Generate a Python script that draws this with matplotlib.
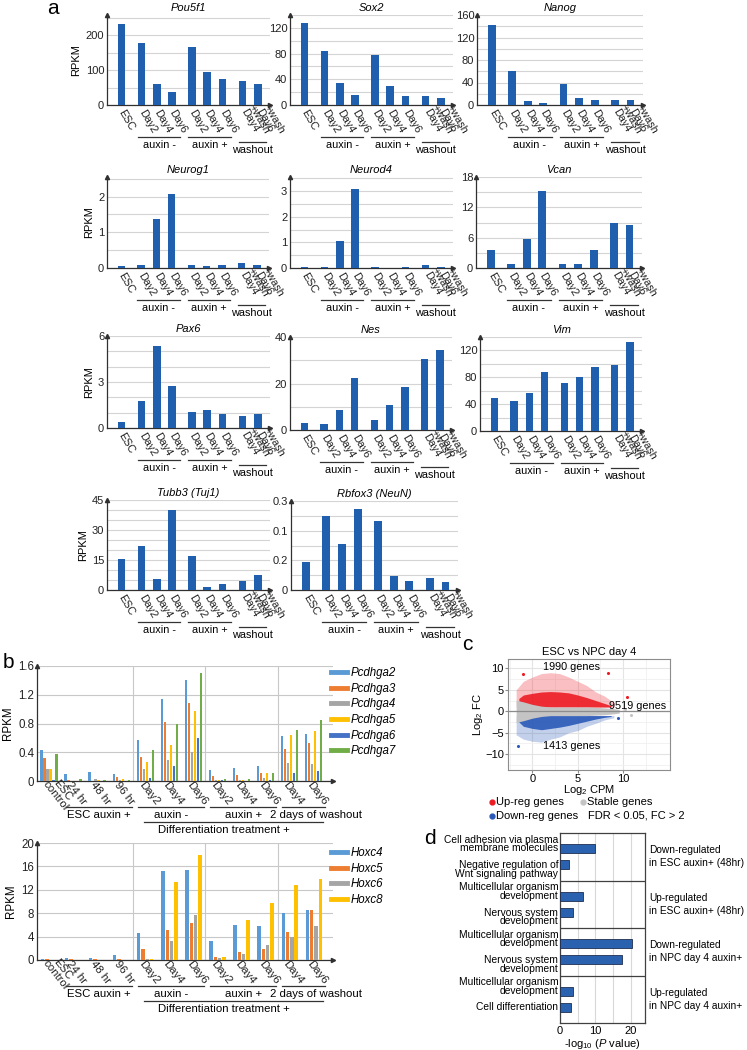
import matplotlib
matplotlib.use("Agg")
import matplotlib.pyplot as plt
import matplotlib.transforms as mtransforms
from matplotlib.lines import Line2D
import numpy as np

plt.rcParams["font.family"] = ["Liberation Sans", "DejaVu Sans"]
plt.rcParams["mathtext.fontset"] = "custom"
plt.rcParams["mathtext.rm"] = "Liberation Sans"
plt.rcParams["mathtext.it"] = "Liberation Sans:italic"
plt.rcParams["mathtext.default"] = "regular"

W, H = 747, 1050
BAR = "#1f5fad"
GRID = "#d4d4d4"
AXC = "#303030"

# ---------------- panel a data ----------------
a_labels = ["ESC", "Day2", "Day4", "Day6", "Day2", "Day4", "Day6", "+wash\nDay4", "+wash\nDay6"]
a_group_sizes = [1, 3, 3, 2]
a_groups = [("auxin -", 1, 3), ("auxin +", 4, 6), ("washout", 7, 8)]

pou5f1 = [231, 178, 61, 36, 167, 96, 75, 69, 60]
sox2 = [127, 84, 34.5, 16, 77.5, 29, 14, 14, 11]
nanog = [143, 60, 6.5, 3, 37, 12, 8.3, 8.3, 9]
neurog1 = [0.06, 0.085, 1.36, 2.07, 0.085, 0.07, 0.085, 0.15, 0.085]
neurod4 = [0.04, 0.05, 1.06, 3.08, 0.03, 0.01, 0.02, 0.12, 0.05]
vcan = [3.55, 0.85, 5.7, 15.2, 0.7, 0.7, 3.55, 8.9, 8.5]
pax6 = [0.39, 1.75, 5.35, 2.73, 1.05, 1.18, 0.9, 0.79, 0.9]
nes = [3.2, 2.6, 8.8, 22.2, 4.5, 10.9, 18.7, 30.4, 34.5]
vim = [48.7, 44.7, 56, 87.4, 71.4, 80.4, 95, 99, 133]
tubb3 = [15.5, 22.2, 5.7, 39.8, 16.8, 1.5, 3, 4.5, 7.6]
rbfox3 = [0.096, 0.25, 0.156, 0.273, 0.231, 0.048, 0.031, 0.039, 0.026]
rbfox3_ticklabels = ["0", "0.2", "0.1", "0.3"]

# ---------------- panel b data ----------------
b_cats = ["ESC\ncontrol", "24 hr", "48 hr", "96 hr", "Day2", "Day4", "Day6",
          "Day2", "Day4", "Day6", "Day4", "Day6"]
b_groups = [("ESC auxin +", 1, 3), ("auxin -", 4, 6), ("auxin +", 7, 9), ("2 days of washout", 10, 11)]
b_super = ("Differentiation treatment +", 4, 11)

pcdh_names = ["Pcdhga2", "Pcdhga3", "Pcdhga4", "Pcdhga5", "Pcdhga6", "Pcdhga7"]
pcdhga2 = [0.43, 0.10, 0.12, 0.10, 0.57, 1.14, 1.40, 0.16, 0.18, 0.21, 0.62, 0.66]
pcdhga3 = [0.32, 0.02, 0.005, 0.05, 0.33, 0.82, 1.09, 0.07, 0.08, 0.11, 0.45, 0.53]
pcdhga4 = [0.17, 0.005, 0.03, 0.02, 0.17, 0.29, 0.40, 0.01, 0.02, 0.04, 0.25, 0.23]
pcdhga5 = [0.17, 0.005, 0.02, 0.03, 0.26, 0.50, 0.98, 0.02, 0.01, 0.11, 0.64, 0.69]
pcdhga6 = [0.02, 0.0, 0.0, 0.0, 0.04, 0.21, 0.60, 0.01, 0.0, 0.02, 0.11, 0.14]
pcdhga7 = [0.37, 0.03, 0.02, 0.02, 0.43, 0.80, 1.50, 0.03, 0.03, 0.11, 0.71, 0.85]
pcdh_colors = ["#5b9bd5", "#ed7d31", "#a5a5a5", "#ffc000", "#4472c4", "#70ad47"]

hox_names = ["Hoxc4", "Hoxc5", "Hoxc6", "Hoxc8"]
hoxc4 = [0.2, 0.35, 0.35, 0.8, 4.7, 15.2, 15.3, 3.2, 6.0, 5.8, 8.0, 8.6]
hoxc5 = [0.1, 0.1, 0.1, 0.25, 1.95, 5.2, 6.26, 0.55, 1.3, 1.95, 4.8, 8.55]
hoxc6 = [0.05, 0.05, 0.05, 0.05, 0.18, 3.2, 7.7, 0.4, 0.95, 2.5, 4.0, 5.8]
hoxc8 = [0.05, 0.05, 0.05, 0.05, 0.18, 13.35, 17.9, 0.5, 6.9, 9.8, 12.9, 13.8]
hox_colors = ["#5b9bd5", "#ed7d31", "#a5a5a5", "#ffc000"]

# ---------------- panel c data (cloud envelopes) ----------------
stable_x = [-1.8, -1.0, 0, 1, 2, 3, 4, 5, 6, 7, 8, 9, 9.6]
stable_hi = [2.6, 2.2, 1.6, 1.2, 1.0, 1.0, 1.0, 1.0, 1.0, 0.9, 0.8, 0.6, 0.4]
stable_lo = [-2.6, -2.2, -1.6, -1.2, -1.0, -1.0, -1.0, -1.0, -1.0, -0.9, -0.8, -0.6, -0.4]
core_x = [-1.5, -1, 0, 1, 2, 3, 4, 5, 6, 7, 8, 8.7]
up_core_hi = [3.0, 3.8, 4.2, 4.5, 4.6, 4.5, 4.3, 3.8, 3.2, 2.5, 1.8, 1.3]
down_core_lo = [-2.5, -3.5, -4.0, -4.3, -4.0, -3.7, -3.3, -2.8, -2.3, -1.8, -1.4, -1.2]
outer_x = [-1.8, -1, 0, 1, 2, 3, 4, 5, 6, 7, 8, 9]
up_outer_hi = [5, 7, 8, 8.8, 9, 8.8, 8, 7, 6, 4.5, 3.5, 2]
down_outer_lo = [-5.5, -6.5, -7, -7.2, -6.5, -6, -5, -4.5, -3.5, -2.8, -2, -1.5]
fc_cut = 1.0
up_pts_x, up_pts_y = [-1.0, 8.4, 10.5], [8.8, 9.0, 3.4]
down_pts_x, down_pts_y = [-1.6, 9.5], [-8.0, -1.5]
stable_pts_x, stable_pts_y = [10.9, 10.2], [-0.8, 0.6]
c_counts = ["1990 genes", "9519 genes", "1413 genes"]

# ---------------- panel d data ----------------
d_terms = ["Cell adhesion via plasma\nmembrane molecules", "Negative regulation of\nWnt signaling pathway",
           "Multicellular organism\ndevelopment", "Nervous system\ndevelopment",
           "Multicellular organism\ndevelopment", "Nervous system\ndevelopment",
           "Multicellular organism\ndevelopment", "Cell differentiation"]
d_vals = [10, 2.5, 6.4, 3.6, 20.3, 17.4, 3.6, 3.2]
d_groups = ["Down-regulated\nin ESC auxin+ (48hr)", "Up-regulated\nin ESC auxin+ (48hr)",
            "Down-regulated\nin NPC day 4 auxin+", "Up-regulated\nin NPC day 4 auxin+"]

fig = plt.figure(figsize=(W / 100, H / 100), dpi=100)


def add_ax(x0, y0, x1, y1):
    return fig.add_axes([x0 / W, 1 - y1 / H, (x1 - x0) / W, (y1 - y0) / H])


def arrow_axes(ax):
    for s in ["top", "right"]:
        ax.spines[s].set_visible(False)
    for s in ["left", "bottom"]:
        ax.spines[s].set_color(AXC)
        ax.spines[s].set_linewidth(0.9)
    ax.plot(1, 0, ">", transform=ax.transAxes, clip_on=False, color=AXC, ms=3, zorder=6)
    ax.plot(0, 1, "^", transform=ax.transAxes, clip_on=False, color=AXC, ms=3, zorder=6)
    ax.tick_params(which="both", length=0, pad=2, colors="#222222")


def shift_xlabels(ax, dx_px):
    off = mtransforms.ScaledTranslation(dx_px / 100, 0, fig.dpi_scale_trans)
    for lab in ax.get_xticklabels():
        lab.set_transform(lab.get_transform() + off)


def under(ax, x0, x1, text, line_px, text_px, ax_h, fs, text_x=None):
    tr = mtransforms.blended_transform_factory(ax.transData, ax.transAxes)
    ax.plot([x0, x1], [-line_px / ax_h] * 2, transform=tr, color="#333333", lw=0.9, clip_on=False)
    tx = (x0 + x1) / 2 if text_x is None else text_x
    ax.text(tx, -text_px / ax_h, text, transform=tr, ha="center", va="center", fontsize=fs)


# ---------------- panel a ----------------
a_x = []
pos = 0.0
for n in a_group_sizes:
    for _ in range(n):
        a_x.append(pos)
        pos += 1
    pos += 0.3

a_panels = [
    ("Pou5f1", pou5f1, (107, 15, 270, 105), 258, [0, 100, 200], None, 50, True),
    ("Sox2", sox2, (290, 15, 453, 105), 140, [0, 40, 80, 120], None, 20, False),
    ("Nanog", nanog, (477, 15, 643, 105), 160, [0, 40, 80, 120, 160], None, 20, False),
    ("Neurog1", neurog1, (107, 177, 269, 268), 2.55, [0, 1, 2], None, 0.5, True),
    ("Neurod4", neurod4, (290, 177, 453, 268), 3.55, [0, 1, 2, 3], None, 0.5, False),
    ("Vcan", vcan, (476, 177, 642, 268), 18, [0, 6, 12, 18], None, 3, False),
    ("Pax6", pax6, (107, 336, 270, 428), 6, [0, 3, 6], None, 1, True),
    ("Nes", nes, (290, 337, 452, 430), 40, [0, 20, 40], None, 10, False),
    ("Vim", vim, (480, 337, 642, 431), 140, [0, 40, 80, 120], None, 20, False),
    ("Tubb3 (Tuj1)", tubb3, (107, 500, 270, 590), 45, [0, 15, 30, 45], None, 5, True),
    ("Rbfox3 (NeuN)", rbfox3, (291, 501, 458, 590), 0.3, [0, 0.1, 0.2, 0.3], rbfox3_ticklabels, 0.05, False),
]

for title, vals, box, ymax, yt, ytl, gstep, ylab in a_panels:
    ax = add_ax(*box)
    ax_h = box[3] - box[1]
    ax.bar(a_x, vals, width=0.5, color=BAR, zorder=3)
    ax.set_xlim(-0.95, 9.7)
    ax.set_ylim(0, ymax)
    ax.set_yticks(yt)
    if ytl is not None:
        ax.set_yticklabels(ytl)
    ax.set_yticks(np.arange(gstep, ymax + 1e-9, gstep), minor=True)
    ax.yaxis.grid(True, which="both", color=GRID, lw=0.8, zorder=0)
    ax.set_axisbelow(True)
    arrow_axes(ax)
    ax.tick_params(axis="y", labelsize=8)
    ax.set_xticks(a_x)
    ax.set_xticklabels(a_labels, rotation=-60, ha="left", va="baseline",
                       rotation_mode="anchor", fontsize=7.8, linespacing=0.85)
    ax.tick_params(axis="x", pad=5)
    shift_xlabels(ax, -3)
    ax.set_title(title, fontstyle="italic", fontsize=8, pad=3)
    if ylab:
        ax.set_ylabel("RPKM", fontsize=8, labelpad=3)
    for g, (txt, i0, i1) in enumerate(a_groups):
        extra = 5 if txt == "washout" else 0
        under(ax, a_x[i0] - 0.25, a_x[i1] + 0.55, txt, 32 + extra, 40 + extra, ax_h, 7.8)

fig.text(53 / W, 1 - 9 / H, "a", fontsize=15, ha="center", va="center")
fig.text(8 / W, 1 - 662 / H, "b", fontsize=15, ha="center", va="center")
fig.text(467 / W, 1 - 645 / H, "c", fontsize=15, ha="center", va="center")
fig.text(430 / W, 1 - 838 / H, "d", fontsize=15, ha="center", va="center")

# ---------------- panel b ----------------
b_x = np.arange(len(b_cats))


def group_bar_panel(box, series, names, colors, slot, width, ymax, yt, ytick_fmt, legend_top):
    ax = add_ax(*box)
    ax_h = box[3] - box[1]
    k = len(series)
    for j, (vals, c) in enumerate(zip(series, colors)):
        ax.bar(b_x + (j - (k - 1) / 2) * slot, vals, width=width, color=c, zorder=3)
    ax.set_xlim(-0.5, 11.8)
    ax.set_ylim(0, ymax)
    ax.set_yticks(yt)
    ax.set_yticklabels([ytick_fmt(v) for v in yt])
    ax.yaxis.grid(True, color="#c8c8c8", lw=0.8, zorder=0)
    for _, i0, i1 in b_groups[:-1]:
        ax.axvline(i1 + 0.5, color="#c8c8c8", lw=0.8, zorder=0)
    ax.set_axisbelow(True)
    arrow_axes(ax)
    ax.tick_params(axis="y", labelsize=8.3)
    ax.set_xticks(b_x)
    ax.set_xticklabels(b_cats, rotation=-52, ha="left", va="baseline",
                       rotation_mode="anchor", fontsize=8.2, linespacing=0.85,
                       multialignment="center")
    ax.tick_params(axis="x", pad=3)
    shift_xlabels(ax, -7)
    ax.set_ylabel("RPKM", fontsize=8.3, labelpad=3)
    for txt, i0, i1 in b_groups:
        tx = i1 + 0.1 if i0 == i1 - 1 else None
        under(ax, i0 - 0.3, i1 + 0.45, txt, 26, 34, ax_h, 8.2, tx)
    under(ax, b_super[1] - 0.05, b_super[2] + 0.4, b_super[0], 41, 49, ax_h, 8.2, 7.25)
    handles = [Line2D([], [], color=c, lw=3.5) for c in colors]
    fig.legend(handles, names, loc="upper left", bbox_to_anchor=(331 / W, 1 - legend_top / H),
               frameon=False, handlelength=1.4, handletextpad=0.3,
               labelspacing=0.32, borderaxespad=0, borderpad=0,
               prop={"style": "italic", "size": 8.3})
    return ax


group_bar_panel((37, 666, 333, 781), [pcdhga2, pcdhga3, pcdhga4, pcdhga5, pcdhga6, pcdhga7],
                pcdh_names, pcdh_colors, 0.125, 0.1, 1.6, [0, 0.4, 0.8, 1.2, 1.6],
                lambda v: "0" if v == 0 else f"{v:.1f}", 667)
group_bar_panel((37, 843, 333, 960), [hoxc4, hoxc5, hoxc6, hoxc8],
                hox_names, hox_colors, 0.18, 0.14, 20, [0, 4, 8, 12, 16, 20],
                lambda v: f"{v:d}", 847)

# ---------------- panel c ----------------
axc = add_ax(508, 659, 670, 770)
RED, BLUE, GREY = "#ec1c24", "#2a59b8", "#c4c4c4"
axc.fill_between(outer_x, fc_cut, up_outer_hi, color=RED, alpha=0.28, lw=0, zorder=2)
axc.fill_between(outer_x, down_outer_lo, -fc_cut, color=BLUE, alpha=0.28, lw=0, zorder=2)
axc.fill_between(core_x, fc_cut, up_core_hi, color=RED, alpha=0.9, lw=0, zorder=3)
axc.fill_between(core_x, down_core_lo, -fc_cut, color=BLUE, alpha=0.9, lw=0, zorder=3)
axc.fill_between(stable_x, stable_lo, stable_hi, color=GREY, lw=0, zorder=4)
axc.scatter(up_pts_x, up_pts_y, s=1.5, color=RED, zorder=4)
axc.scatter(down_pts_x, down_pts_y, s=1.5, color=BLUE, zorder=4)
axc.scatter(stable_pts_x, stable_pts_y, s=1.5, color=GREY, zorder=4)
axc.axhline(0, color="#8c8c8c", lw=0.9, zorder=5)
axc.set_xlim(-2.7, 15.2)
axc.set_ylim(-13.7, 12.2)
axc.set_xticks([0, 5, 10])
axc.set_yticks([-10, -5, 0, 5, 10])
axc.set_xticks([-2.5, 2.5, 7.5, 12.5], minor=True)
axc.set_yticks([-12.5, -7.5, -2.5, 2.5, 7.5], minor=True)
axc.grid(True, which="major", color="#e4e4e4", lw=0.8, zorder=0)
axc.grid(True, which="minor", color="#f0f0f0", lw=0.6, zorder=0)
axc.set_axisbelow(True)
for s in axc.spines.values():
    s.set_color("#8c8c8c")
    s.set_linewidth(0.8)
axc.tick_params(which="major", length=2, color="#8c8c8c", labelsize=8, pad=1)
axc.tick_params(which="minor", length=0)
axc.set_xlabel("Log$_2$ CPM", fontsize=8, labelpad=-1)
axc.set_ylabel("Log$_2$ FC", fontsize=8, labelpad=0)
axc.set_title("ESC vs NPC day 4", fontsize=8, pad=3)
axc.text(4.3, 10.3, c_counts[0], fontsize=7.8, ha="center", va="center", zorder=7)
axc.text(11.6, 1.3, c_counts[1], fontsize=7.8, ha="center", va="center", zorder=7)
axc.text(4.3, -8.0, c_counts[2], fontsize=7.8, ha="center", va="center", zorder=7)

for xx, yy, col, lab in [(492, 802, RED, "Up-reg genes"), (492, 816, BLUE, "Down-reg genes"),
                         (583, 802, GREY, "Stable genes")]:
    fig.add_artist(Line2D([xx / W], [1 - yy / H], marker="o", ms=3.5, color=col, lw=0,
                          transform=fig.transFigure))
    fig.text((xx + 4) / W, 1 - yy / H, lab, fontsize=8, va="center", ha="left")
fig.text(588 / W, 1 - 816 / H, "FDR < 0.05, FC > 2", fontsize=8, va="center", ha="left")

# ---------------- panel d ----------------
axd = add_ax(560, 833, 645, 1023)
d_y = []
for g in range(len(d_groups)):
    d_y += [3 * g + 1, 3 * g + 2]
axd.barh(d_y, d_vals, height=0.55, color="#2b62b0", edgecolor="#1f2f4f", lw=0.6, zorder=3)
axd.set_xlim(0, 24)
axd.set_ylim(12, 0)
axd.set_xticks([0, 10, 20])
axd.set_xticks([5, 15], minor=True)
axd.xaxis.grid(True, which="both", color="#d8d8d8", lw=0.8, zorder=0)
axd.set_axisbelow(True)
axd.set_yticks([])
for s in axd.spines.values():
    s.set_color("#404040")
    s.set_linewidth(0.9)
for sep in [3, 6, 9]:
    axd.axhline(sep, color="#404040", lw=0.9, zorder=4)
axd.tick_params(which="both", length=0, labelsize=8, pad=2)
axd.set_xlabel(r"-log$_{10}$ ($\mathit{P}$ value)", fontsize=8, labelpad=1)
ytr = mtransforms.blended_transform_factory(axd.transAxes, axd.transData)
for i, (term, yy) in enumerate(zip(d_terms, d_y)):
    nl = term.count("\n")
    shift = 0 if nl == 0 else (-0.3 if i % 2 == 0 else 0.3)
    axd.text(-0.02, yy + shift, term, transform=ytr, ha="right", va="center",
             fontsize=7.4, multialignment="right", linespacing=0.85)
for g, txt in enumerate(d_groups):
    axd.text(1.05, 3 * g + 1.5, txt, transform=ytr, ha="left", va="center",
             fontsize=7.3, linespacing=1.35)

fig.savefig("out.png", dpi=100)
